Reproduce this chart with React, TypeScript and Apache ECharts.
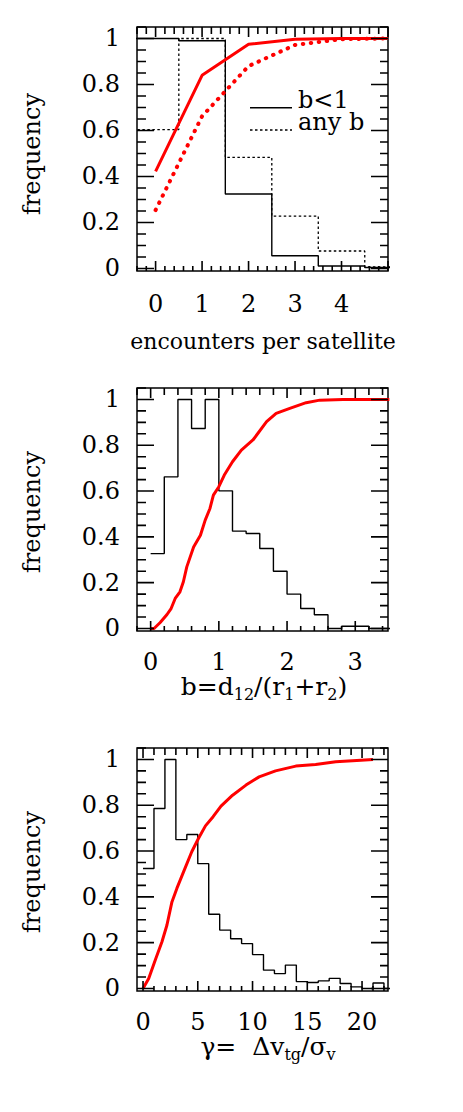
import React, { useEffect, useRef } from "react";
import * as echarts from "echarts";

// ---------- data ----------
// top panel: encounters per satellite (bins centred on integers)
const encounters = [0, 1, 2, 3, 4, 5];
const histBLess1 = [1, 0.99, 0.324, 0.055, 0.011, 0.004];
const histAnyB = [0.604, 1, 0.483, 0.228, 0.076, 0.007];
const cumBLess1 = [0.422, 0.84, 0.975, 0.997, 1, 1];
const cumAnyB = [0.254, 0.662, 0.88, 0.972, 0.997, 1];

// middle panel: b = d12/(r1+r2)
const bEdges = [0, 0.2, 0.4, 0.6, 0.8, 1.0, 1.2, 1.4, 1.6, 1.8, 2.0, 2.2, 2.4, 2.6, 2.8, 3.0, 3.2, 3.4, 3.6];
const bHist = [0.327, 0.662, 1.0, 0.873, 1.0, 0.601, 0.425, 0.415, 0.349, 0.25, 0.15, 0.087, 0.06, 0.0, 0.01, 0.01, 0.0, 0.0];
const bCumX = [0, 0.05, 0.14, 0.24, 0.3, 0.36, 0.43, 0.48, 0.53, 0.63, 0.73, 0.8, 0.87, 0.92, 1.0, 1.08, 1.2, 1.33, 1.5, 1.7, 1.84, 2.04, 2.28, 2.48, 2.82, 3.5];
const bCumY = [0, 0, 0.026, 0.061, 0.087, 0.131, 0.16, 0.204, 0.269, 0.356, 0.407, 0.473, 0.524, 0.582, 0.619, 0.67, 0.728, 0.779, 0.823, 0.903, 0.939, 0.961, 0.986, 0.997, 1.0, 1.0];

// bottom panel: gamma = dv_tg / sigma_v
const gEdges = [0, 1, 2, 3, 4, 5, 6, 7, 8, 9, 10, 11, 12, 13, 14, 15, 16, 17, 18, 19, 20, 21, 22, 23];
const gHist = [0.524, 0.786, 1.0, 0.65, 0.672, 0.545, 0.324, 0.255, 0.217, 0.196, 0.148, 0.08, 0.065, 0.102, 0.03, 0.026, 0.033, 0.044, 0.022, 0.007, 0.0, 0.024, 0.0];
const gCumX = [0, 0.52, 1.12, 1.73, 2.18, 2.64, 3.09, 3.7, 4.45, 5.06, 5.7, 6.4, 7.12, 8.18, 9.4, 10.6, 12.1, 13.95, 15.76, 17.6, 19.9, 21];
const gCumY = [0, 0.044, 0.124, 0.204, 0.276, 0.378, 0.437, 0.509, 0.597, 0.655, 0.71, 0.75, 0.796, 0.844, 0.888, 0.924, 0.95, 0.971, 0.978, 0.99, 0.997, 1.0];

// tick labels
const topXLabels = [0, 1, 2, 3, 4];
const midXLabels = [0, 1, 2, 3];
const botXLabels = [0, 5, 10, 15, 20];
const yLabels = [0, 0.2, 0.4, 0.6, 0.8, 1];

// ---------- helpers ----------
const FONT = "DejaVu Serif";
const FS = 24;
const Y_MIN = -0.011;
const Y_MAX = 1.05;

function range(a: number, b: number, s: number): number[] {
  const out: number[] = [];
  const n = Math.round((b - a) / s);
  for (let i = 0; i <= n; i++) out.push(Math.round((a + i * s) * 1000) / 1000);
  return out;
}

function histLine(edges: number[], vals: number[]): number[][] {
  const pts: number[][] = [];
  vals.forEach((v, i) => {
    pts.push([edges[i], v]);
    pts.push([edges[i + 1], v]);
  });
  return pts;
}

// grid boxes [left, top, width, height]
const GRIDS = [
  [137, 27, 251, 244],
  [137, 388, 251, 243],
  [137, 748, 251, 243],
];
const X_RANGES = [
  [-0.4, 5.0],
  [-0.2, 3.48],
  [-0.55, 22.37],
];
const X_MAJOR = [[0, 1, 2, 3, 4, 5], [0, 1, 2, 3], [0, 5, 10, 15, 20]];
const X_MINOR = [range(-0.4, 5.0, 0.2), range(-0.2, 3.4, 0.2), range(0, 22, 1)];
const Y_MINOR = range(0, 1.05, 0.05);

// tick marks on all four sides, expressed in each panel's data units (lengths given in px)
function tickData(g: number): any[] {
  const [, , w, h] = GRIDS[g];
  const [x0, x1] = X_RANGES[g];
  const dx = (x1 - x0) / w;
  const dy = (Y_MAX - Y_MIN) / h;
  const pts: any[] = [];
  const seg = (a: number[], b: number[]) => {
    pts.push(a, b, ["-", "-"]);
  };
  X_MAJOR[g].forEach((v) => {
    seg([v, Y_MIN], [v, Y_MIN + 10 * dy]);
    seg([v, Y_MAX], [v, Y_MAX - 10 * dy]);
  });
  X_MINOR[g].forEach((v) => {
    seg([v, Y_MIN], [v, Y_MIN + 5 * dy]);
    seg([v, Y_MAX], [v, Y_MAX - 7 * dy]);
  });
  yLabels.forEach((v) => {
    seg([x0, v], [x0 + 17 * dx, v]);
    seg([x1, v], [x1 - 17 * dx, v]);
  });
  Y_MINOR.forEach((v) => {
    seg([x0, v], [x0 + 9 * dx, v]);
    seg([x1, v], [x1 - 8 * dx, v]);
  });
  return pts;
}

export default function App() {
  const ref = useRef<HTMLDivElement>(null);
  useEffect(() => {
    if (!ref.current) return;
    const chart = echarts.init(ref.current, undefined, { renderer: "svg" });

    const labelStyle = { fontFamily: FONT, fontSize: FS, color: "#000" };
    const xLabelSets = [topXLabels, midXLabels, botXLabels];
    const xMargins = [21, 19, 19];
    const xAxes = GRIDS.map((_, g) => ({
      type: "value",
      gridIndex: g,
      min: X_RANGES[g][0],
      max: X_RANGES[g][1],
      axisLine: { show: false, onZero: false },
      axisTick: { show: false },
      splitLine: { show: false },
      axisLabel: { show: true, customValues: xLabelSets[g], margin: xMargins[g], ...labelStyle },
    }));
    const yAxes = GRIDS.map((_, g) => ({
      type: "value",
      gridIndex: g,
      min: Y_MIN,
      max: Y_MAX,
      axisLine: { show: false, onZero: false },
      axisTick: { show: false },
      splitLine: { show: false },
      axisLabel: { show: true, customValues: yLabels, margin: 17, ...labelStyle },
    }));

    const topEdges = [...encounters.map((c) => c - 0.5), encounters[encounters.length - 1] + 0.5];
    const black = (w: number, type: any = "solid") => ({ color: "#000", width: w, type });
    const ser = (gi: number, data: any[], lineStyle: any, z = 2, clip = true) => ({
      type: "line",
      xAxisIndex: gi,
      yAxisIndex: gi,
      data,
      symbol: "none",
      clip,
      connectNulls: false,
      lineStyle,
      z,
    });

    const titleMain = { fontSize: 25, fontFamily: FONT, lineHeight: 32, fill: "#000" };
    const titleSub = { fontSize: 16, fontFamily: FONT, lineHeight: 16, verticalAlign: "bottom", fill: "#000" };
    const freqLabel = (y: number) => ({
      type: "text",
      x: 32,
      y,
      rotation: Math.PI / 2,
      style: { text: "frequency", fontSize: FS, fontFamily: FONT, fill: "#000", align: "center", verticalAlign: "middle" },
    });

    chart.setOption({
      animation: false,
      grid: GRIDS.map(([l, t, w, h]) => ({ show: true, borderColor: "#000", borderWidth: 1.5, left: l, top: t, width: w, height: h })),
      xAxis: xAxes,
      yAxis: yAxes,
      series: [
        // tick marks
        ser(0, tickData(0), black(1.6), 4, false),
        ser(1, tickData(1), black(1.6), 4, false),
        ser(2, tickData(2), black(1.6), 4, false),
        // data
        ser(0, histLine(topEdges, histBLess1), black(1.4)),
        ser(0, histLine(topEdges, histAnyB), black(1.3, [2.5, 2.5])),
        ser(0, encounters.map((x, i) => [x, cumBLess1[i]]), { color: "#ff0000", width: 3 }, 3),
        ser(0, encounters.map((x, i) => [x, cumAnyB[i]]), { color: "#ff0000", width: 4, type: [0.5, 7.5], cap: "round" }, 3),
        ser(1, histLine(bEdges, bHist), black(1.4)),
        ser(1, bCumX.map((x, i) => [x, bCumY[i]]), { color: "#ff0000", width: 3 }, 3),
        ser(2, histLine(gEdges, gHist), black(1.4)),
        ser(2, gCumX.map((x, i) => [x, gCumY[i]]), { color: "#ff0000", width: 3 }, 3),
      ],
      graphic: [
        // legend (top panel)
        { type: "line", shape: { x1: 250, y1: 107.7, x2: 292, y2: 107.7 }, style: { stroke: "#000", lineWidth: 1.4 } },
        { type: "line", shape: { x1: 250, y1: 130, x2: 292, y2: 130 }, style: { stroke: "#000", lineWidth: 1.3, lineDash: [2.5, 2.5] } },
        { type: "text", x: 298, y: 100, style: { text: "b<1", fontSize: FS, lineHeight: 20, fontFamily: FONT, fill: "#000", align: "left", verticalAlign: "middle" } },
        { type: "text", x: 298, y: 122, style: { text: "any b", fontSize: FS, lineHeight: 20, fontFamily: FONT, fill: "#000", align: "left", verticalAlign: "middle" } },
        // y titles
        freqLabel(154),
        freqLabel(512),
        freqLabel(872),
        // x titles
        { type: "text", x: 263, y: 341, style: { text: "encounters per satellite", fontSize: 22, fontFamily: FONT, fill: "#000", align: "center", verticalAlign: "middle" } },
        {
          type: "text",
          x: 264,
          y: 686,
          style: { text: "{m|b=d}{s|12}{m|/(r}{s|1}{m|+r}{s|2}{m|)}", rich: { m: titleMain, s: titleSub }, align: "center", verticalAlign: "middle" },
        },
        {
          type: "text",
          x: 268,
          y: 1046,
          style: { text: "{m|γ=  Δv}{s|tg}{m|/σ}{s|v}", rich: { m: titleMain, s: titleSub }, align: "center", verticalAlign: "middle" },
        },
      ],
    });

    return () => chart.dispose();
  }, []);
  return <div ref={ref} style={{ position: "absolute", left: 0, top: 0, width: 463, height: 1112 }} />;
}
